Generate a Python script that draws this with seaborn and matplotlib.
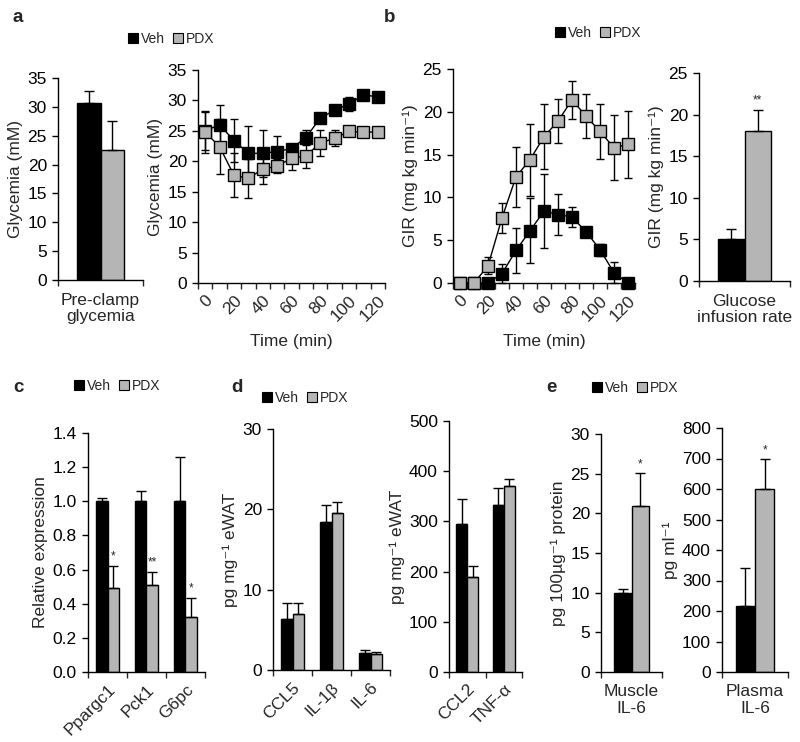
import matplotlib
matplotlib.use("Agg")
import matplotlib.pyplot as plt
from matplotlib.patches import Patch
import numpy as np
import pandas as pd
import seaborn as sns

# ---- data ----
GROUPS = ["Veh", "PDX"]
times = [0, 10, 20, 30, 40, 50, 60, 70, 80, 90, 100, 110, 120]

preclamp_mean = [30.7, 22.5]
preclamp_err = [2.0, 5.0]

gly_veh = [25.0, 26.0, 23.4, 21.3, 21.3, 21.6, 22.1, 23.9, 27.1, 28.4, 29.4, 30.9, 30.6]
gly_veh_err = [3.1, 3.2, 3.5, 4.5, 3.9, 2.5, 0.8, 1.3, 0.6, 0.5, 1.1, 0.3, 0.3]
gly_pdx = [24.8, 22.4, 17.7, 17.2, 18.7, 19.2, 20.5, 20.9, 23.0, 23.8, 24.9, 24.8, 24.8]
gly_pdx_err = [3.4, 4.5, 3.6, 3.2, 2.4, 1.1, 1.9, 2.0, 2.2, 1.3, 0.3, 0.2, 0.2]

gir_veh = [0, 0, 0, 1.1, 3.8, 6.1, 8.4, 8.0, 7.7, 6.0, 3.9, 1.2, 0]
gir_veh_err = [0, 0, 0, 1.1, 2.6, 3.8, 4.3, 2.4, 1.2, 0.3, 0.7, 1.2, 0]
gir_pdx = [0, 0, 2.0, 7.6, 12.4, 14.4, 17.1, 18.9, 21.4, 19.5, 17.7, 15.8, 16.2]
gir_pdx_err = [0, 0, 1.0, 1.8, 3.5, 4.2, 3.8, 2.6, 2.2, 2.6, 3.2, 3.8, 3.9]

gir_bar_mean = [5.1, 18.0]
gir_bar_err = [1.1, 2.6]

genes = ["Ppargc1", "Pck1", "G6pc"]
expr_veh = [1.0, 1.0, 1.0]
expr_veh_err = [0.02, 0.06, 0.26]
expr_pdx = [0.49, 0.51, 0.32]
expr_pdx_err = [0.13, 0.075, 0.115]
expr_stars = ["*", "**", "*"]

cyto1 = ["CCL5", "IL-1β", "IL-6"]
cyto1_veh = [6.4, 18.4, 2.1]
cyto1_veh_err = [1.9, 2.1, 0.35]
cyto1_pdx = [7.0, 19.6, 1.95]
cyto1_pdx_err = [1.3, 1.3, 0.3]

cyto2 = ["CCL2", "TNF-α"]
cyto2_veh = [295, 333]
cyto2_veh_err = [49, 34]
cyto2_pdx = [189, 370]
cyto2_pdx_err = [23, 15]

muscle_il6 = [10.0, 20.9]
muscle_il6_err = [0.5, 4.2]
plasma_il6 = [216, 600]
plasma_il6_err = [126, 100]

GRAY = "#b5b5b5"
palette = {"Veh": "black", "PDX": GRAY}
FS = 12.5

sns.set_style("ticks")
plt.rcParams["font.family"] = ["Liberation Sans", "DejaVu Sans"]
plt.rcParams["axes.linewidth"] = 1.0
plt.rcParams["xtick.major.width"] = 1.0
plt.rcParams["ytick.major.width"] = 1.0
plt.rcParams["xtick.major.size"] = 4
plt.rcParams["ytick.major.size"] = 4

W, H = 800, 742
fig = plt.figure(figsize=(W / 100, H / 100), dpi=100)


def add_ax(left, top, right, bottom):
    return fig.add_axes([left / W, 1 - bottom / H, (right - left) / W, (bottom - top) / H])


def style_ax(ax, ymax, step, ylabel, fmt="{:g}"):
    sns.despine(ax=ax)
    ax.set_ylim(0, ymax)
    ticks = np.arange(0, ymax + step / 2, step)
    ax.set_yticks(ticks)
    ax.set_yticklabels([fmt.format(t) for t in ticks], fontsize=FS)
    ax.set_ylabel(ylabel, fontsize=FS, labelpad=3)
    ax.tick_params(axis="y", colors="black", pad=4)
    for s in ax.spines.values():
        s.set_color("black")


def category_ticks(ax, n, labels, rotation=0, every=1):
    ax.set_xlim(-0.5, n - 0.5)
    ax.set_xticks(np.arange(-0.5, n, 1.0))
    ax.set_xticklabels([])
    ax.set_xticks(np.arange(0, n, every), minor=True)
    if rotation:
        ax.set_xticklabels(labels, minor=True, rotation=rotation, ha="right",
                           rotation_mode="anchor", fontsize=FS)
        ax.tick_params(axis="x", which="minor", length=0, pad=7)
    else:
        ax.set_xticklabels(labels, minor=True, fontsize=FS, linespacing=1.15)
        ax.tick_params(axis="x", which="minor", length=0, pad=9)
    ax.set_xlabel("")


def bar_panel(ax, cats, veh, veh_err, pdx, pdx_err, width=0.6):
    df = pd.DataFrame({
        "cat": cats * 2,
        "group": ["Veh"] * len(cats) + ["PDX"] * len(cats),
        "value": list(veh) + list(pdx),
    })
    sns.barplot(data=df, x="cat", y="value", hue="group", order=cats, hue_order=GROUPS,
                palette=palette, saturation=1, errorbar=None, width=width,
                edgecolor="black", linewidth=1, legend=False, ax=ax)
    centers = []
    for cont, vals, errs in zip(ax.containers, [veh, pdx], [veh_err, pdx_err]):
        xs = [p.get_x() + p.get_width() / 2 for p in cont]
        ax.errorbar(xs, vals, yerr=[np.zeros(len(vals)), errs], fmt="none",
                    ecolor="black", elinewidth=1, capsize=3.5, capthick=1, zorder=1)
        centers.append(xs)
    return centers


def stars(ax, xs, vals, errs, marks, offset):
    for x, v, e, m in zip(xs, vals, errs, marks):
        ax.text(x, v + e + offset, m, ha="center", va="bottom", fontsize=8.5)


def line_panel(ax, veh, veh_err, pdx, pdx_err):
    pos = np.arange(len(times))
    for vals, errs, face in [(veh, veh_err, "black"), (pdx, pdx_err, GRAY)]:
        ax.errorbar(pos, vals, yerr=errs, fmt="none", ecolor="black", elinewidth=1,
                    capsize=3, capthick=1, zorder=2, clip_on=False)
        sns.lineplot(x=pos, y=vals, color="black", linewidth=1, marker="s", markersize=8,
                     markerfacecolor=face, markeredgecolor="black", markeredgewidth=1,
                     ax=ax, zorder=3, clip_on=False)


def legend(x, y):
    handles = [Patch(facecolor=palette[g], edgecolor="black", linewidth=0.8, label=g) for g in GROUPS]
    fig.legend(handles=handles, loc="center", bbox_to_anchor=(x / W, 1 - y / H), ncol=2,
               frameon=False, fontsize=10, handlelength=0.7, handleheight=0.7,
               handletextpad=0.2, columnspacing=0.6, borderpad=0)


def panel_label(s, x, y):
    fig.text(x / W, 1 - y / H, s, fontsize=13.5, fontweight="bold", ha="center", va="center")


# ---- panel a ----
ax = add_ax(58, 78, 143, 280)
bar_panel(ax, ["Pre-clamp\nglycemia"], preclamp_mean[:1], preclamp_err[:1],
          preclamp_mean[1:], preclamp_err[1:], width=0.56)
style_ax(ax, 35, 5, "Glycemia (mM)")
category_ticks(ax, 1, ["Pre-clamp\nglycemia"])

ax = add_ax(198, 70, 385, 283)
line_panel(ax, gly_veh, gly_veh_err, gly_pdx, gly_pdx_err)
style_ax(ax, 35, 5, "Glycemia (mM)")
category_ticks(ax, len(times), [str(t) for t in times[::2]], rotation=45, every=2)
ax.set_xlabel("Time (min)", fontsize=FS, labelpad=7)

# ---- panel b ----
ax = add_ax(453, 69, 635, 283)
line_panel(ax, gir_veh, gir_veh_err, gir_pdx, gir_pdx_err)
style_ax(ax, 25, 5, "GIR (mg kg min⁻¹)")
category_ticks(ax, len(times), [str(t) for t in times[::2]], rotation=45, every=2)
ax.set_xlabel("Time (min)", fontsize=FS, labelpad=7)

ax = add_ax(699, 73, 790, 281)
xs = bar_panel(ax, ["Glucose\ninfusion rate"], gir_bar_mean[:1], gir_bar_err[:1],
               gir_bar_mean[1:], gir_bar_err[1:], width=0.58)
style_ax(ax, 25, 5, "GIR (mg kg min⁻¹)")
category_ticks(ax, 1, ["Glucose\ninfusion rate"])
stars(ax, xs[1], gir_bar_mean[1:], gir_bar_err[1:], ["**"], 0.4)

# ---- panel c ----
ax = add_ax(88, 433, 205, 672)
xs = bar_panel(ax, genes, expr_veh, expr_veh_err, expr_pdx, expr_pdx_err)
style_ax(ax, 1.4, 0.2, "Relative expression", fmt="{:.1f}")
category_ticks(ax, len(genes), genes, rotation=45)
stars(ax, xs[1], expr_pdx, expr_pdx_err, expr_stars, 0.02)

# ---- panel d ----
ax = add_ax(273, 429, 390, 670)
bar_panel(ax, cyto1, cyto1_veh, cyto1_veh_err, cyto1_pdx, cyto1_pdx_err)
style_ax(ax, 30, 10, "pg mg⁻¹ eWAT")
category_ticks(ax, len(cyto1), cyto1, rotation=45)

ax = add_ax(449, 421, 522, 672)
bar_panel(ax, cyto2, cyto2_veh, cyto2_veh_err, cyto2_pdx, cyto2_pdx_err)
style_ax(ax, 500, 100, "pg mg⁻¹ eWAT")
category_ticks(ax, len(cyto2), cyto2, rotation=45)

# ---- panel e ----
ax = add_ax(601, 434, 662, 672)
xs = bar_panel(ax, ["Muscle\nIL-6"], muscle_il6[:1], muscle_il6_err[:1],
               muscle_il6[1:], muscle_il6_err[1:], width=0.56)
style_ax(ax, 30, 5, "pg 100µg⁻¹ protein")
category_ticks(ax, 1, ["Muscle\nIL-6"])
stars(ax, xs[1], muscle_il6[1:], muscle_il6_err[1:], ["*"], 0.3)

ax = add_ax(722, 428, 788, 672)
xs = bar_panel(ax, ["Plasma\nIL-6"], plasma_il6[:1], plasma_il6_err[:1],
               plasma_il6[1:], plasma_il6_err[1:], width=0.58)
style_ax(ax, 800, 100, "pg ml⁻¹")
category_ticks(ax, 1, ["Plasma\nIL-6"])
stars(ax, xs[1], plasma_il6[1:], plasma_il6_err[1:], ["*"], 8)

# ---- legends and panel letters ----
legend(171, 39)
legend(598, 33)
legend(117, 386)
legend(305, 398)
legend(635, 388)

panel_label("a", 18, 17)
panel_label("b", 390, 17)
panel_label("c", 18, 387)
panel_label("d", 237, 387)
panel_label("e", 551, 387)

fig.savefig("out.png", dpi=100)
